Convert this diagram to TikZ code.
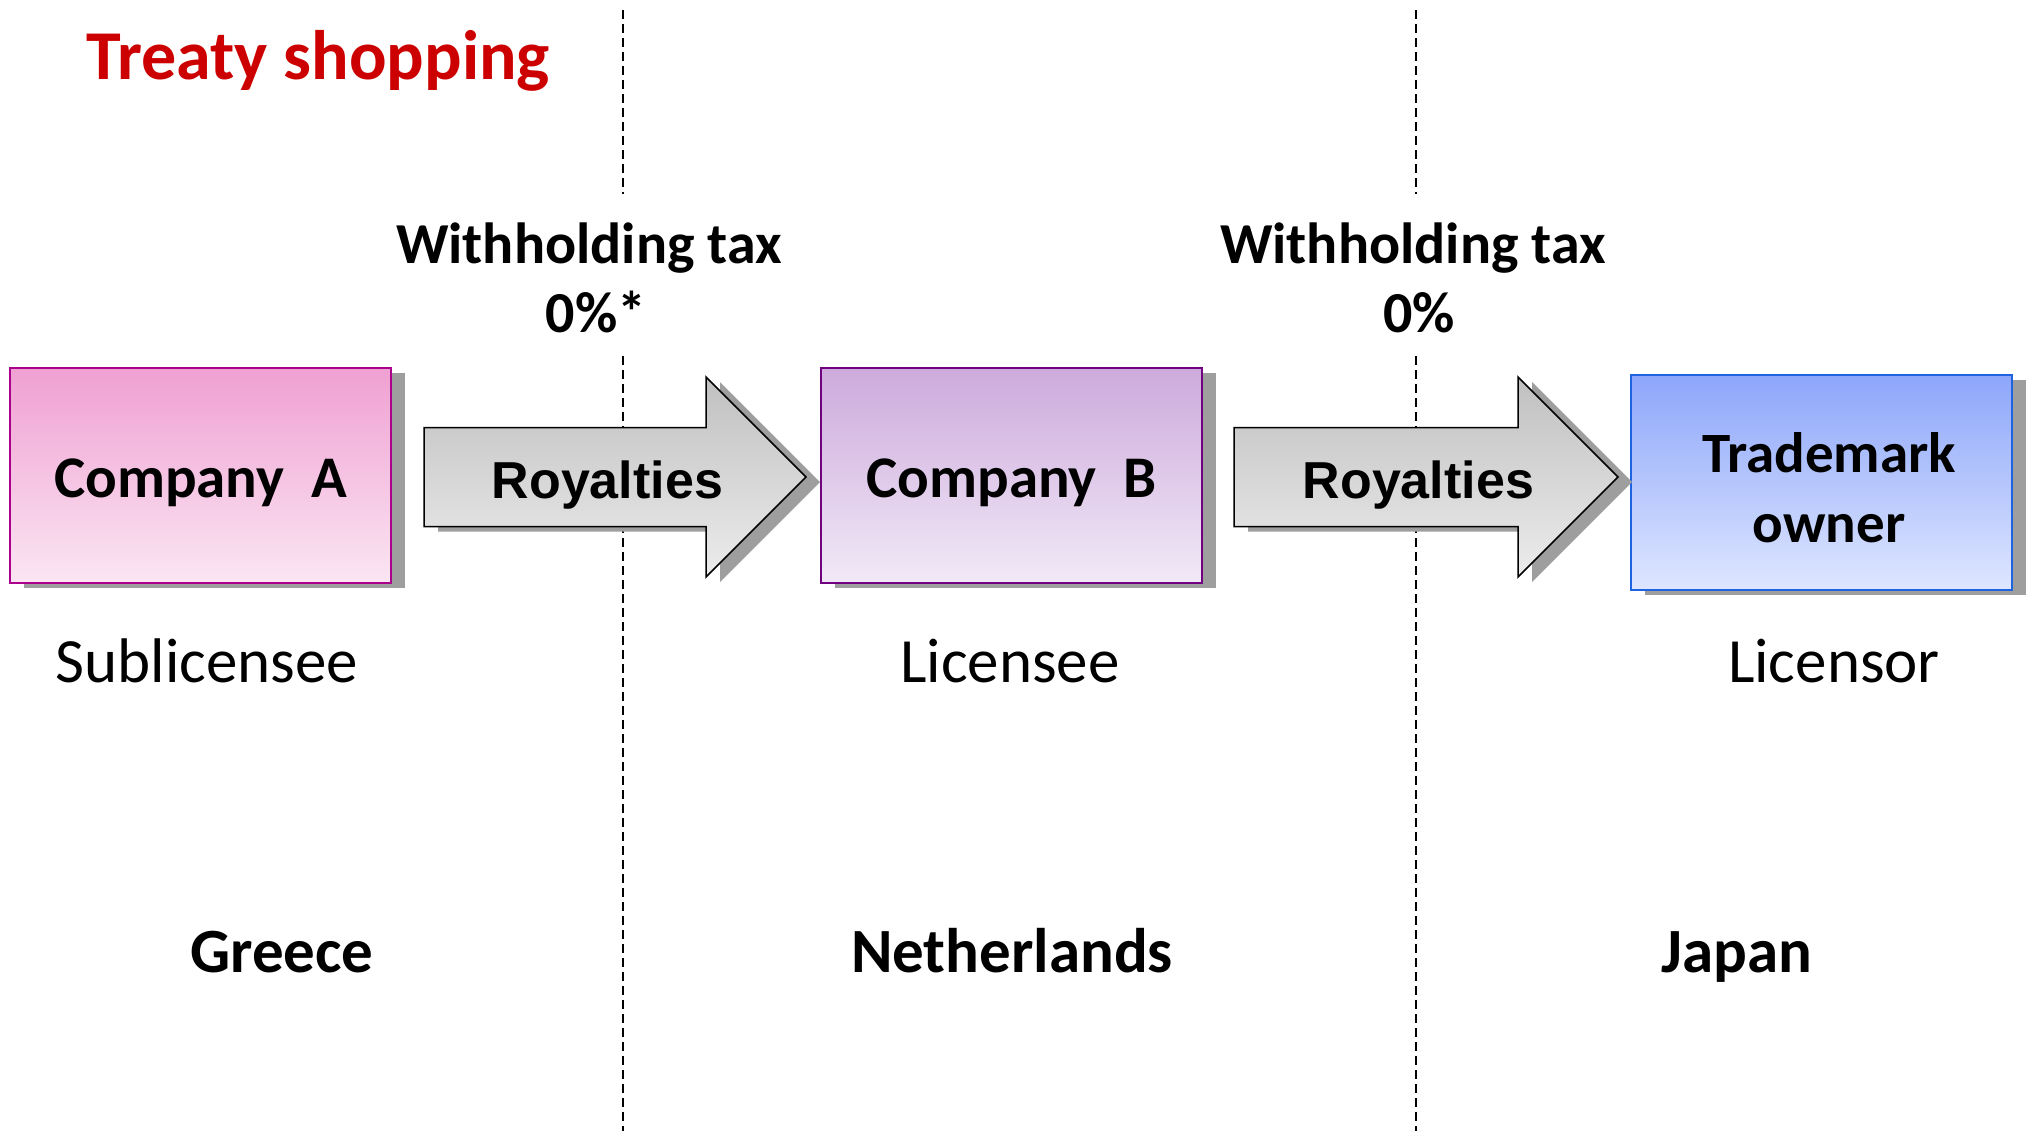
\documentclass[tikz,border=0pt]{standalone}
\usepackage{fontspec}
\setmainfont{Carlito}
\newfontfamily\arialfont{Liberation Sans}
\usetikzlibrary{calc,shadows}
\definecolor{titlered}{RGB}{204,0,0}
\definecolor{pinktop}{RGB}{239,160,210}
\definecolor{pinkbot}{RGB}{251,230,243}
\definecolor{pinkline}{RGB}{170,0,140}
\definecolor{lavtop}{RGB}{205,170,220}
\definecolor{lavbot}{RGB}{241,233,247}
\definecolor{lavline}{RGB}{112,0,128}
\definecolor{bluetop}{RGB}{141,166,250}
\definecolor{bluebot}{RGB}{222,230,255}
\definecolor{blueline}{RGB}{30,100,225}
\definecolor{arrtop}{RGB}{192,192,192}
\definecolor{arrbot}{RGB}{236,236,236}
\definecolor{shadowgray}{RGB}{158,158,158}
\begin{document}
\begin{tikzpicture}[x=0.5pt,y=-0.5pt,
  graysh/.style={drop shadow={shadow xshift=7pt,shadow yshift=-2.5pt,fill=shadowgray,opacity=1}},
  box/.style={rectangle, line width=1pt, minimum width=190.5pt, minimum height=107.5pt,
    inner sep=0pt, graysh, font=\fontsize{29.5pt}{35pt}\selectfont\bfseries},
  boxA/.style={box, draw=pinkline, top color=pinktop, bottom color=pinkbot, text height=21.5pt, text depth=0pt},
  boxB/.style={box, draw=lavline, top color=lavtop, bottom color=lavbot, text height=21.5pt, text depth=0pt},
  boxC/.style={box, draw=blueline, top color=bluetop, bottom color=bluebot},
  boxtext/.style={inner sep=0pt, align=center, font=\fontsize{28.5pt}{35pt}\selectfont\bfseries},
  blockarrow/.style={draw=black, line width=0.75pt, top color=arrtop, bottom color=arrbot, graysh},
  roy/.style={inner sep=0pt, font=\arialfont\fontsize{26pt}{30pt}\selectfont\bfseries},
  sepline/.style={draw=black, line width=1pt, dash pattern=on 4.5pt off 2.5pt},
  taxlabel/.style={inner sep=0pt, align=center, font=\fontsize{29pt}{34.5pt}\selectfont\bfseries},
  rolelabel/.style={inner sep=0pt, font=\fontsize{31.5pt}{36pt}\selectfont},
  countrylabel/.style={inner sep=0pt, font=\fontsize{31.5pt}{36pt}\selectfont\bfseries}
]
\useasboundingbox (0,0) rectangle (2030,1131);

% country separators
\draw[sepline] (623,10) -- (623,194) (623,356) -- (623,1131);
\draw[sepline] (1416,10) -- (1416,194) (1416,356) -- (1416,1131);

% title
\node[anchor=base, inner sep=0pt, text=titlered, font=\fontsize{35pt}{40pt}\selectfont\bfseries] (title) at (318,79) {Treaty shopping};

% boxes
\node[boxA] (A) at (200.5,475.5) {Company~~A};
\node[boxB] (B) at (1011.5,475.5) {Company~~B};
\node[boxC] (C) at (1821.5,482.5) {};
\node[boxtext] (Ct) at (1829,488) {Trademark\\owner};

% block arrows
\coordinate (t1) at ($(A.east)+(32,1.5)$);
\coordinate (h1) at ($(t1)+(382,0)$);
\path[blockarrow] ($(t1)+(0,-49.5)$) -- ($(h1)+(-100,-49.5)$) -- ($(h1)+(-100,-100)$) -- (h1)
  -- ($(h1)+(-100,100)$) -- ($(h1)+(-100,49.5)$) -- ($(t1)+(0,49.5)$) -- cycle;
\coordinate (m1) at ($(t1)!0.48!(h1)$);
\node[roy, anchor=base] (r1) at ($(m1)+(0,21)$) {Royalties};

\coordinate (t2) at ($(B.east)+(31,1.5)$);
\coordinate (h2) at ($(t2)+(384,0)$);
\path[blockarrow] ($(t2)+(0,-49.5)$) -- ($(h2)+(-100,-49.5)$) -- ($(h2)+(-100,-100)$) -- (h2)
  -- ($(h2)+(-100,100)$) -- ($(h2)+(-100,49.5)$) -- ($(t2)+(0,49.5)$) -- cycle;
\coordinate (m2) at ($(t2)!0.48!(h2)$);
\node[roy, anchor=base] (r2) at ($(m2)+(0,21)$) {Royalties};

% withholding tax labels
\node[taxlabel] (w1) at (589,278) {Withholding tax\\\hspace*{7pt}0\%*};
\node[taxlabel] (w2) at (1413,278) {Withholding tax\\\hspace*{6pt}0\%};

% role labels
\node[rolelabel, anchor=base] (l1) at (207,682) {Sublicensee};
\node[rolelabel, anchor=base] (l2) at (1010,682) {Licensee};
\node[rolelabel, anchor=base] (l3) at (1834,682) {Licensor};

% countries
\node[countrylabel, anchor=base] (c1) at (282,972) {Greece};
\node[countrylabel, anchor=base] (c2) at (1012,972) {Netherlands};
\node[countrylabel, anchor=base] (c3) at (1737,972) {Japan};
\end{tikzpicture}
\end{document}
